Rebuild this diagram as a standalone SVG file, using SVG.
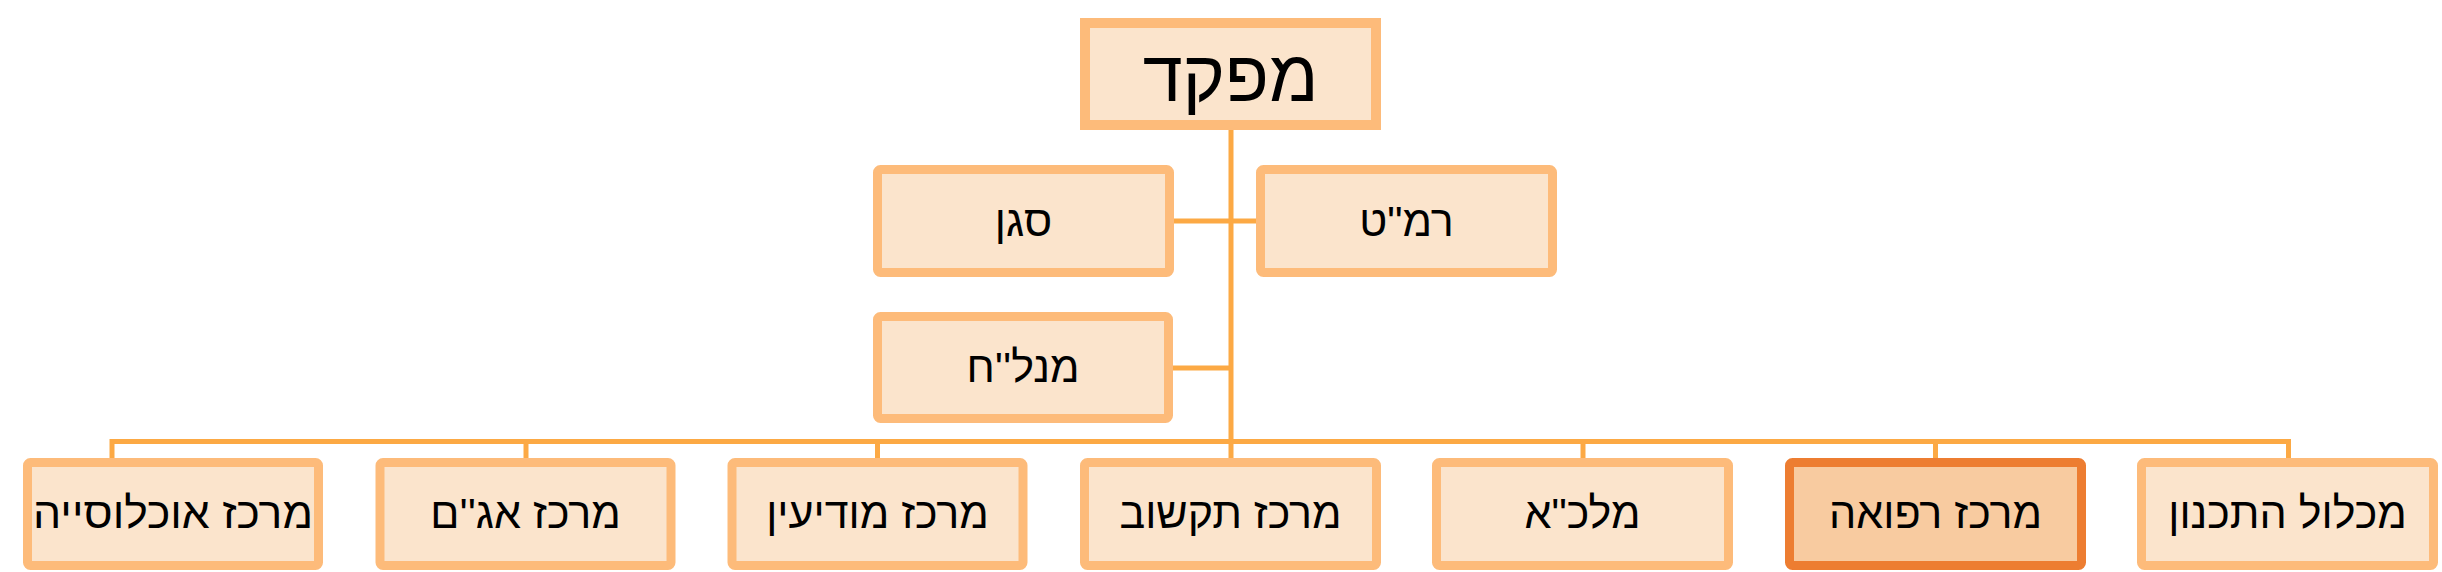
<svg xmlns="http://www.w3.org/2000/svg" width="2442" height="572" viewBox="0 0 2442 572">
<style>
.box{fill:#FBE4CC;stroke:#FDBB7A;stroke-width:9}
.hl{fill:#F8CBA0;stroke:#ED7D31;stroke-width:9}
.top{fill:#FBE4CC;stroke:#FDBB7A;stroke-width:10}
.t{font-family:"Liberation Sans",Arial,sans-serif;font-size:43px;fill:#000;text-anchor:middle}
.tt{font-family:"Liberation Sans",Arial,sans-serif;font-size:72px;fill:#000;text-anchor:middle}
.c{fill:none;stroke:#FCA944;stroke-width:5}
</style>
<rect width="2442" height="572" fill="#fff"/>
<g id="connectors">
<path class="c" d="M1231,130 V458"/>
<path class="c" d="M1174,221 H1257"/>
<path class="c" d="M1173,368 H1231"/>
<path class="c" d="M112,458 V441.5 H2288.5 V458"/>
<path class="c" d="M526,441.5 V458"/>
<path class="c" d="M877.5,441.5 V458"/>
<path class="c" d="M1583,441.5 V458"/>
<path class="c" d="M1935.5,441.5 V458"/>
</g>
<g id="n-mefaked">
<rect class="top" x="1085" y="23" width="291" height="102"/>
<text class="tt" x="1230.5" y="101" direction="rtl">מפקד</text>
</g>
<g id="n-sagan">
<rect class="box" x="877.5" y="169.5" width="292" height="103" rx="3"/>
<text class="t" x="1023.5" y="236" direction="rtl">סגן</text>
</g>
<g id="n-ramat">
<rect class="box" x="1260.5" y="169.5" width="292" height="103" rx="3"/>
<text class="t" x="1406.5" y="236" direction="rtl">רמ"ט</text>
</g>
<g id="n-manlach">
<rect class="box" x="877.5" y="316.5" width="291" height="102" rx="3"/>
<text class="t" x="1023" y="382" direction="rtl">מנל''ח</text>
</g>
<g id="n-ukhlusiya">
<rect class="box" x="27.5" y="462.5" width="291" height="103" rx="3"/>
<text class="t" x="173" y="528" direction="rtl" textLength="280" lengthAdjust="spacingAndGlyphs">מרכז אוכלוסייה</text>
</g>
<g id="n-agam">
<rect class="box" x="380" y="462.5" width="291" height="103" rx="3"/>
<text class="t" x="525.5" y="528" direction="rtl">מרכז אג''ם</text>
</g>
<g id="n-modiin">
<rect class="box" x="732" y="462.5" width="291" height="103" rx="3"/>
<text class="t" x="877.5" y="528" direction="rtl">מרכז מודיעין</text>
</g>
<g id="n-tikshuv">
<rect class="box" x="1084.5" y="462.5" width="292" height="103" rx="3"/>
<text class="t" x="1230.5" y="528" direction="rtl">מרכז תקשוב</text>
</g>
<g id="n-malka">
<rect class="box" x="1436.5" y="462.5" width="292" height="103" rx="3"/>
<text class="t" x="1582.5" y="528" direction="rtl">מלכ"א</text>
</g>
<g id="n-refua">
<rect class="hl" x="1789.5" y="462.5" width="292" height="103" rx="3"/>
<text class="t" x="1935.5" y="528" direction="rtl">מרכז רפואה</text>
</g>
<g id="n-tikhnun">
<rect class="box" x="2141.5" y="462.5" width="292" height="103" rx="3"/>
<text class="t" x="2287.5" y="528" direction="rtl">מכלול התכנון</text>
</g>
</svg>
